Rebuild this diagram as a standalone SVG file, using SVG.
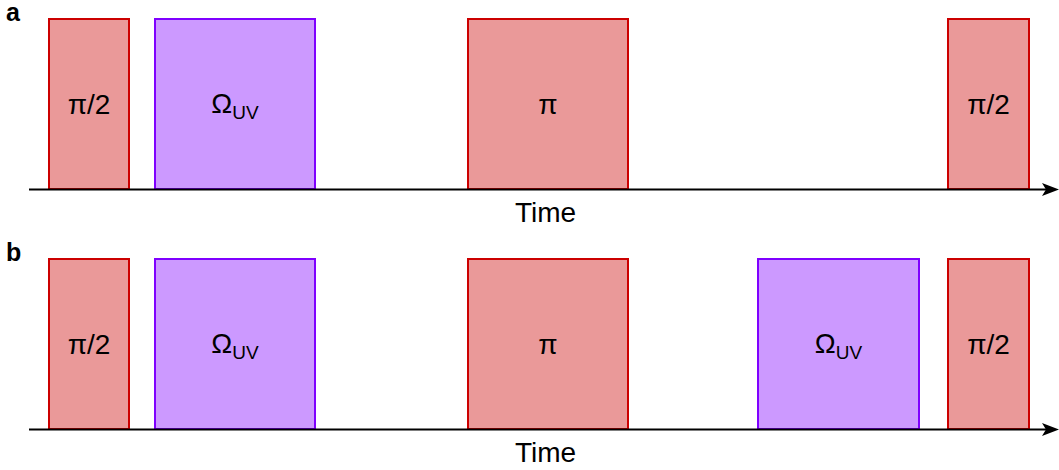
<svg xmlns="http://www.w3.org/2000/svg" width="1059" height="470" viewBox="0 0 1059 470">
<style>
.r{fill:#EA9999;stroke:#CC0000;stroke-width:2}
.p{fill:#CC99FF;stroke:#7F00FF;stroke-width:2}
.t{font-family:"Liberation Sans",Arial,Helvetica,sans-serif;font-size:28px;fill:#000;text-anchor:middle}
.s{font-size:19px}
.ax{stroke:#000;stroke-width:2.2;fill:none}
.lb{font-family:"Liberation Sans",Arial,Helvetica,sans-serif;font-size:25px;font-weight:bold;fill:#000}
</style>
<defs>
<marker id="ah" markerWidth="18" markerHeight="14" refX="4" refY="7" orient="auto" markerUnits="userSpaceOnUse" viewBox="0 0 18 14">
<path d="M0,0.5 L17,7 L0,13.5 L4,7 Z" fill="#000"/>
</marker>
</defs>
<text class="lb" x="6" y="21">a</text>
<text class="lb" x="6" y="261">b</text>
<g id="a-pi2-1"><rect class="r" x="49" y="19" width="80" height="170"/><text class="t" x="89" y="114">π/2</text></g>
<g id="a-uv"><rect class="p" x="155" y="19" width="160" height="170"/><text class="t" x="235" y="113">Ω<tspan class="s" dy="5.5">UV</tspan></text></g>
<g id="a-pi"><rect class="r" x="468" y="19" width="160" height="170"/><text class="t" x="548" y="114">π</text></g>
<g id="a-pi2-2"><rect class="r" x="948" y="19" width="81" height="170"/><text class="t" x="988.5" y="114">π/2</text></g>
<g id="b-pi2-1"><rect class="r" x="49" y="259" width="80" height="170"/><text class="t" x="89" y="354">π/2</text></g>
<g id="b-uv1"><rect class="p" x="155" y="259" width="160" height="170"/><text class="t" x="235" y="353">Ω<tspan class="s" dy="5.5">UV</tspan></text></g>
<g id="b-pi"><rect class="r" x="468" y="259" width="160" height="170"/><text class="t" x="548" y="354">π</text></g>
<g id="b-uv2"><rect class="p" x="758" y="259" width="161" height="170"/><text class="t" x="838.5" y="353">Ω<tspan class="s" dy="5.5">UV</tspan></text></g>
<g id="b-pi2-2"><rect class="r" x="948" y="259" width="81" height="170"/><text class="t" x="988.5" y="354">π/2</text></g>
<g id="connectors">
<line class="ax" x1="29" y1="189.5" x2="1046" y2="189.5" marker-end="url(#ah)"/>
<line class="ax" x1="29" y1="429.5" x2="1046" y2="429.5" marker-end="url(#ah)"/>
</g>
<text class="t" x="545.5" y="222">Time</text>
<text class="t" x="545.5" y="462">Time</text>
</svg>
